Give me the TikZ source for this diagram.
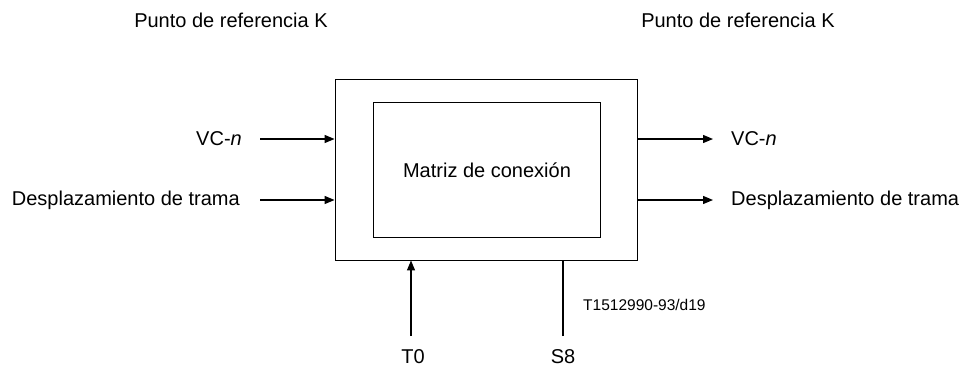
\documentclass[tikz,border=0pt]{standalone}
\usepackage{fontspec}
\setmainfont{Liberation Sans}
\usetikzlibrary{arrows.meta}
\begin{document}
\begin{tikzpicture}[x=1pt,y=-1pt,
  lbl/.style={inner sep=0pt,font=\fontsize{20}{24}\selectfont},
  arr/.style={line width=1.3pt,-{Triangle[length=10pt,width=8pt]}},
  ln/.style={line width=1.3pt},
  box/.style={draw,line width=0.9pt,inner sep=0pt}]
\useasboundingbox (0,0) rectangle (963,369);
\node[box,minimum width=302pt,minimum height=181pt] (outer) at (486,169.5) {};
\node[box,minimum width=227pt,minimum height=135pt] (inner) at (486.5,169.5) {};
\node[lbl] (mat) at (487,170) {Matriz de conexión};
\node[lbl] (pk1) at (231,20) {Punto de referencia K};
\node[lbl] (pk2) at (738,20) {Punto de referencia K};
\node[lbl,anchor=east] (vcl) at (242,139) {VC-\textit{n}};
\node[lbl,anchor=east] (dtl) at (240,200) {Desplazamiento de trama};
\node[lbl,anchor=west] (vcr) at (731,139) {VC-\textit{n}};
\node[lbl,anchor=west] (dtr) at (731,200) {Desplazamiento de trama};
\node[lbl] (t0) at (413,357) {T0};
\node[lbl] (s8) at (563,357) {S8};
\node[lbl,font=\fontsize{15.5}{18}\selectfont,anchor=west] (code) at (583,305) {T1512990-93/d19};
\coordinate (l1) at (260,139);
\coordinate (l2) at (260,200);
\coordinate (r1) at (713,139);
\coordinate (r2) at (713,200);
\coordinate (t0s) at (411,336);
\coordinate (s8s) at (563,336);
\draw[arr] (l1) -- (l1 -| outer.west);
\draw[arr] (l2) -- (l2 -| outer.west);
\draw[arr] (r1 -| outer.east) -- (r1);
\draw[arr] (r2 -| outer.east) -- (r2);
\draw[arr] (t0s) -- (t0s |- outer.south);
\draw[ln] (s8s) -- (s8s |- outer.south);
\end{tikzpicture}
\end{document}
